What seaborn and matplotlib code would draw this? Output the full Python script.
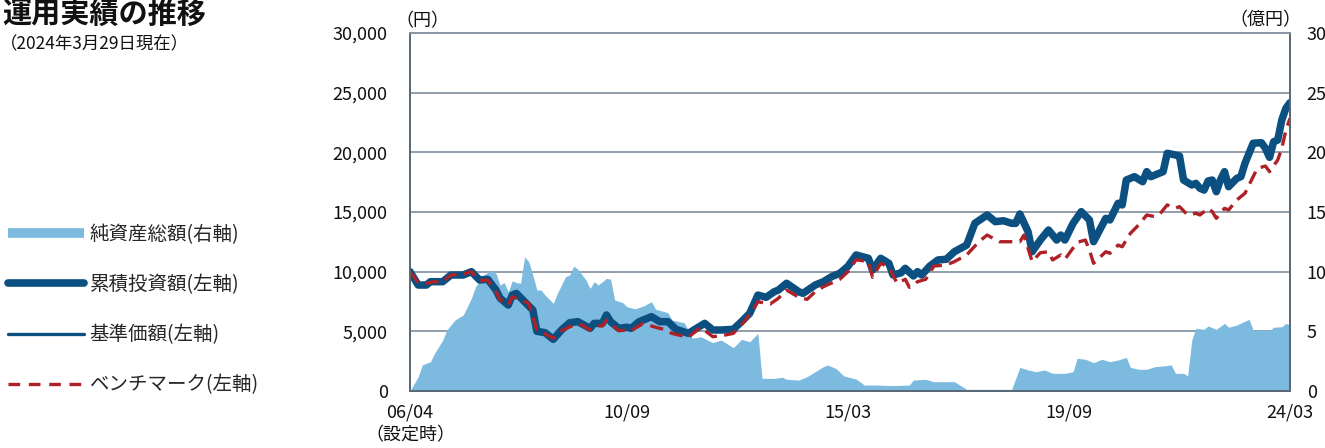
import matplotlib
matplotlib.use("Agg")
import matplotlib.pyplot as plt
from matplotlib.lines import Line2D
import seaborn as sns

# ---- data (months since launch 2006/04) ----
nav_months = [0, 2, 4, 5, 8, 10, 13, 15, 17, 19, 21, 22, 24, 25, 26, 28, 30, 31, 33, 35,
              37, 39, 41, 44, 45, 47, 48, 49, 51, 53, 54, 56, 59, 61, 63, 65, 68, 70, 72, 74,
              76, 79, 81, 83, 85, 87, 89, 90, 92, 95, 96, 99, 101, 103, 105, 107, 109, 112, 113, 115,
              117, 118, 120, 121, 123, 124, 125, 127, 129, 131, 133, 136, 138, 141, 143, 145, 147, 148, 149, 151,
              152, 154, 156, 158, 159, 160, 162, 164, 166, 167, 170, 171, 173, 174, 175, 177, 179, 180, 181, 183,
              184, 185, 187, 188, 189, 191, 192, 193, 194, 195, 196, 197, 198, 199, 200, 202, 203, 204, 206, 208,
              209, 210, 211, 212, 213, 214, 215]
nav_values = [10000, 8880, 8880, 9160, 9160, 9720, 9720, 10000, 9300, 9360, 8460, 7790, 7200, 8040, 8180, 7480, 6790, 5000, 4890, 4330,
              5110, 5720, 5810, 5250, 5670, 5670, 6370, 5810, 5250, 5340, 5250, 5810, 6230, 5810, 5810, 5170, 4830, 5250, 5670, 5110,
              5110, 5170, 5810, 6510, 8040, 7850, 8320, 8460, 9030, 8320, 8180, 8880, 9160, 9580, 9860, 10450, 11400, 11120, 10140, 11120,
              10700, 9720, 9910, 10280, 9640, 10000, 9720, 10470, 10980, 11040, 11670, 12230, 14050, 14750, 14190, 14270, 14050, 14050, 14830, 13350,
              11670, 12650, 13490, 12650, 13070, 12650, 14050, 15030, 14330, 12510, 14470, 14330, 15730, 15590, 17680, 17960, 17540, 18380, 17960, 18240,
              18380, 19920, 19780, 19690, 17680, 17260, 17400, 16990, 16840, 17600, 17680, 16700, 17680, 18380, 17120, 17820, 17960, 19080, 20760, 20810,
              20340, 19580, 20890, 21030, 22710, 23690, 24160]

# cumulative investment value equals the NAV path (no distributions)
cum_months = nav_months
cum_values = nav_values

bm_months = [0, 2, 4, 6, 8, 10, 13, 15, 17, 19, 21, 22, 24, 25, 27, 29, 31, 32, 35, 37,
             40, 42, 44, 46, 47, 48, 50, 51, 53, 54, 57, 60, 62, 64, 68, 71, 74, 77, 79, 82,
             84, 85, 88, 90, 92, 95, 97, 99, 101, 105, 107, 109, 112, 113, 115, 117, 119, 121, 122, 124,
             126, 128, 131, 133, 136, 139, 141, 144, 146, 149, 150, 151, 152, 154, 156, 157, 159, 160, 163, 165,
             166, 167, 170, 171, 173, 174, 176, 178, 180, 182, 183, 185, 187, 188, 190, 192, 193, 195, 196, 197,
             199, 200, 202, 204, 206, 207, 209, 210, 212, 213, 214, 215]
bm_values = [10000, 9080, 9030, 9160, 9160, 9720, 9800, 10000, 9240, 9300, 8320, 7630, 7200, 7900, 7630, 7350, 5100, 4970, 4420, 5050,
             5530, 5530, 5110, 5450, 5450, 5950, 5340, 5050, 5110, 5050, 5670, 5340, 5170, 4830, 4500, 5340, 4550, 4690, 4830, 5950,
             6930, 7480, 7290, 7770, 8460, 7850, 7680, 8320, 8740, 9360, 10000, 11000, 10840, 9530, 10700, 10370, 9030, 9360, 8690, 9160,
             9360, 10470, 10560, 10840, 11400, 12510, 13070, 12510, 12510, 12510, 13070, 11960, 10840, 11590, 11670, 10980, 11400, 11040, 12450, 12650,
             11820, 10700, 11670, 11540, 12230, 12090, 13210, 13910, 14750, 14610, 14750, 15590, 15310, 15450, 14750, 14890, 14750, 15310, 15030, 14470,
             15310, 15170, 16010, 16570, 17960, 18660, 18850, 18380, 19360, 20340, 21870, 22850]

na_months = [0, 2, 3, 5, 6, 8, 9, 11, 13, 14, 15, 16, 18, 20, 21, 22, 23, 24, 25, 26,
             27, 28, 29, 30, 31, 32, 33, 35, 36, 38, 39, 40, 41, 43, 44, 45, 46, 48, 49, 50,
             52, 53, 55, 57, 59, 60, 63, 64, 67, 69, 71, 74, 76, 79, 81, 83, 85, 86, 89, 91,
             92, 95, 97, 99, 101, 102, 104, 106, 109, 111, 114, 118, 122, 123, 126, 128, 133, 136, 140, 147,
             149, 151, 153, 155, 157, 160, 162, 163, 165, 167, 169, 171, 173, 175, 176, 178, 180, 182, 184, 186,
             187, 189, 190, 191, 192, 194, 195, 197, 199, 200, 202, 205, 206, 209, 210, 211, 213, 214, 215]
na_values = [0.0, 1.2, 2.18, 2.46, 3.16, 4.27, 5.11, 5.95, 6.37, 7.06, 7.77, 8.74, 9.72, 10.14, 9.86, 8.88, 9.08, 8.32, 9.24, 9.08,
             9.03, 11.25, 10.84, 9.72, 8.46, 8.46, 8.04, 7.35, 8.18, 9.58, 9.72, 10.47, 10.2, 9.3, 8.6, 9.16, 8.88, 9.44, 9.36, 7.63,
             7.4, 7.06, 6.89, 7.12, 7.48, 6.85, 6.57, 5.95, 5.72, 4.42, 4.55, 4.05, 4.27, 3.63, 4.33, 4.13, 4.83, 1.06, 1.06, 1.15,
             0.98, 0.92, 1.2, 1.62, 2.04, 2.18, 1.9, 1.26, 1.0, 0.5, 0.5, 0.45, 0.5, 0.92, 0.98, 0.78, 0.78, 0.14, 0.14, 0.14,
             1.98, 1.76, 1.62, 1.76, 1.48, 1.48, 1.62, 2.74, 2.66, 2.37, 2.66, 2.46, 2.6, 2.82, 1.98, 1.82, 1.82, 2.04, 2.1, 2.18,
             1.48, 1.48, 1.26, 4.27, 5.25, 5.17, 5.45, 5.17, 5.67, 5.34, 5.53, 6.01, 5.11, 5.11, 5.05, 5.34, 5.39, 5.67, 5.53]

tick_months = [0, 53, 107, 161, 215]
tick_labels = ["06/04\n（設定時）", "10/09", "15/03", "19/09", "24/03"]
left_ticks = [0, 5000, 10000, 15000, 20000, 25000, 30000]
right_ticks = [0, 5, 10, 15, 20, 25, 30]
series_labels = ["純資産総額(右軸)", "累積投資額(左軸)", "基準価額(左軸)", "ベンチマーク(左軸)"]
title_text = "運用実績の推移"
subtitle_text = "（2024年3月29日現在）"
left_unit = "（円）"
right_unit = "（億円）"

# ---- styles ----
area_color = "#7dbadf"
navy = "#0c4f81"
red = "#ae2127"
grid_color = "#8996a3"
spine_color = "#5b6876"
txt = "#111111"

sns.set_theme(style="white")
plt.rcParams['font.family'] = ['Noto Sans CJK JP', 'DejaVu Sans']

fig = plt.figure(figsize=(13.25, 4.48), dpi=100)
L, R, B, T = 410 / 1325, 1290 / 1325, 1 - 391 / 448, 1 - 33 / 448
ax = fig.add_axes([L, B, R - L, T - B])
ax2 = ax.twinx()
ax.set_zorder(ax2.get_zorder() + 1)
ax.patch.set_visible(False)

# area (right axis)
ax2.fill_between(na_months, na_values, 0, color=area_color, linewidth=0, zorder=2)
ax2.set_ylim(0, 30)
ax2.set_yticks(right_ticks)
ax2.set_yticklabels([str(v) for v in right_ticks])
ax2.yaxis.grid(True, color=grid_color, linewidth=1.3, zorder=1)
ax2.set_axisbelow(True)

# lines (left axis)
sns.lineplot(x=cum_months, y=cum_values, ax=ax, color=navy, linewidth=5.4,
             solid_capstyle='round', solid_joinstyle='round', legend=False)
sns.lineplot(x=nav_months, y=nav_values, ax=ax, color=navy, linewidth=2.0, legend=False)
sns.lineplot(x=bm_months, y=bm_values, ax=ax, color=red, linewidth=2.4,
             linestyle=(0, (4, 2.2)), legend=False)

ax.set_xlim(0, 215)
ax.set_ylim(0, 30000)
ax.set_yticks(left_ticks)
ax.set_yticklabels([f"{v:,}" for v in left_ticks])
ax.set_xticks(tick_months)
ax.set_xticklabels(tick_labels, linespacing=1.35)
ax.set_xlabel("")
ax.set_ylabel("")
ax.grid(False)

for a in (ax, ax2):
    for s in a.spines.values():
        s.set_color(spine_color)
        s.set_linewidth(1.3)
    a.spines['top'].set_color(grid_color)

ax.tick_params(axis='y', length=0, pad=16, labelsize=13, colors=txt)
ax2.tick_params(axis='y', length=0, pad=12, labelsize=13, colors=txt)
ax.tick_params(axis='x', direction='in', length=4.5, width=1.2, color=spine_color,
               pad=9, labelsize=13, labelcolor=txt)

fig.text(422 / 1325, 1 - 21 / 448, left_unit, ha='center', va='center', fontsize=13, color=txt)
fig.text(1265 / 1325, 1 - 20 / 448, right_unit, ha='center', va='center', fontsize=13, color=txt)

fig.text(2 / 1325, 1 - 14 / 448, title_text, ha='left', va='center', fontsize=21,
         fontweight='bold', color=txt)
fig.text(0 / 1325, 1 - 44 / 448, subtitle_text, ha='left', va='center', fontsize=12.5, color=txt)

handles = [
    Line2D([0], [0], color=area_color, linewidth=7, solid_capstyle='butt'),
    Line2D([0], [0], color=navy, linewidth=5.5, solid_capstyle='round'),
    Line2D([0], [0], color=navy, linewidth=2.4, solid_capstyle='round'),
    Line2D([0], [0], color=red, linewidth=2.4, linestyle=(0, (3.5, 2.6))),
]
ax.legend(handles, series_labels, loc='upper left', bbox_to_anchor=(0.006, 0.5),
          bbox_transform=fig.transFigure, frameon=False, fontsize=14,
          handlelength=3.9, handletextpad=0.3, labelspacing=1.5,
          borderaxespad=0, borderpad=0)

fig.savefig("out.png", dpi=100)
